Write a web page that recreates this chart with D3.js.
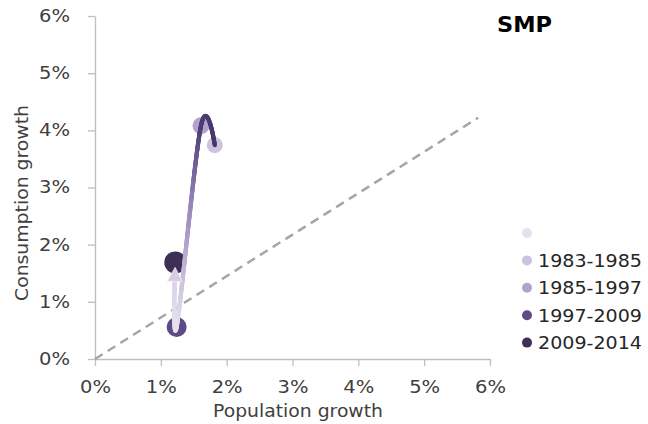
<!DOCTYPE html>
<html><head><meta charset="utf-8">
<script src="https://cdn.jsdelivr.net/npm/d3@7"></script>
<style>body{margin:0;background:#fff}svg{display:block}text{font-family:"DejaVu Sans",Verdana,sans-serif}</style>
</head><body><svg id="c" width="648" height="424"></svg>
<script>
const periods = ["1983-1985","1985-1997","1997-2009","2009-2014"];
const popGrowth = [1.82, 1.61, 1.24, 1.22];
const consGrowth = [3.74, 4.08, 0.56, 1.69];
const pointColors = ["#cdc3de","#b3a3cc","#5e4a85","#3e2f55"];
const pointRadius = [8, 8.5, 10, 11];
const legendLabels = ["", "1983-1985","1985-1997","1997-2009","2009-2014"];
const legendColors = ["#e6e0ee","#cdc3de","#b3a3cc","#5e4a85","#3e2f55"];
const refX = [0, 5.82];
const refY = [0, 4.22];
const xTicks = [0,1,2,3,4,5,6];
const yTicks = [0,1,2,3,4,5,6];
const chartTitle = "SMP";
const xTitle = "Population growth";
const yTitle = "Consumption growth";

const svg = d3.select("#c");
const x = d3.scaleLinear().domain([0,6]).range([95,490]);
const y = d3.scaleLinear().domain([0,6]).range([359,16]);
const axisColor = "#bfbfbf", textColor = "#404040";

// axes
const gy = svg.append("g").attr("transform","translate(95,0)")
  .call(d3.axisLeft(y).tickValues(yTicks).tickFormat(d=>d+"%").tickSize(7).tickSizeOuter(0).tickPadding(18));
const gx = svg.append("g").attr("transform","translate(0,359)")
  .call(d3.axisBottom(x).tickValues(xTicks).tickFormat(d=>d+"%").tickSize(7).tickSizeOuter(0).tickPadding(15));
[gx,gy].forEach(g=>{
  g.selectAll("path,line").attr("stroke",axisColor).attr("stroke-width",1.3);
  g.selectAll("text").attr("fill",textColor).style("font-size","17px").style("font-family","DejaVu Sans")
    .attr("textLength",31).attr("lengthAdjust","spacingAndGlyphs");
});

// axis titles
svg.append("text").attr("x",298).attr("y",417).attr("text-anchor","middle")
  .attr("fill",textColor).style("font-size","17px")
  .attr("textLength",170).attr("lengthAdjust","spacingAndGlyphs").text(xTitle);
svg.append("text").attr("transform","translate(28,203) rotate(-90)").attr("text-anchor","middle")
  .attr("fill",textColor).style("font-size","17px")
  .attr("textLength",196).attr("lengthAdjust","spacingAndGlyphs").text(yTitle);

// reference line
svg.append("line").attr("x1",x(refX[0])).attr("y1",y(refY[0])).attr("x2",x(refX[1])).attr("y2",y(refY[1]))
  .attr("stroke","#a6a6a6").attr("stroke-width",2.5).attr("stroke-dasharray","9,6");

// points
const pts = periods.map((p,i)=>({p, x:popGrowth[i], y:consGrowth[i], c:pointColors[i], r:pointRadius[i]}));
svg.append("g").selectAll("circle").data(pts).join("circle")
  .attr("cx",d=>x(d.x)).attr("cy",d=>y(d.y)).attr("r",d=>d.r).attr("fill",d=>d.c);

// trajectory line with colour along its length
const lineGen = d3.line().x(d=>x(d.x)).y(d=>y(d.y)).curve(d3.curveCatmullRom.alpha(0));
const hidden = svg.append("path").attr("d",lineGen(pts)).attr("fill","none").attr("stroke","none");
const node = hidden.node();
const L = node.getTotalLength();
const colorStops = d3.scaleLinear().domain([0,0.15,0.38,0.68,0.78,1])
  .range(["#46356b","#4f3e77","#9584b8","#d5cde4","#e8e3f0","#d6cde5"]).interpolate(d3.interpolateRgb);
const tipBack = 5, headLen = 14, headHalf = 7.5;
const tipL = L - tipBack, baseL = tipL - headLen;
const lg = svg.append("g");
const step = 1;
for (let s=0; s<baseL; s+=step){
  const a = node.getPointAtLength(s), b = node.getPointAtLength(Math.min(s+step+0.5, baseL+1));
  lg.append("line").attr("x1",a.x).attr("y1",a.y).attr("x2",b.x).attr("y2",b.y)
    .attr("stroke",colorStops(s/L)).attr("stroke-width",4.2).attr("stroke-linecap","round");
}
const tip = node.getPointAtLength(tipL), base = node.getPointAtLength(baseL);
const dx = tip.x-base.x, dy = tip.y-base.y, len = Math.hypot(dx,dy);
const ux = dx/len, uy = dy/len, px = -uy, py = ux;
const bx = tip.x-ux*headLen, by = tip.y-uy*headLen;
svg.append("path").attr("d",`M${tip.x},${tip.y}L${bx+px*headHalf},${by+py*headHalf}L${bx-px*headHalf},${by-py*headHalf}Z`)
  .attr("fill",colorStops(1)).attr("stroke","#f3f0f7").attr("stroke-width",0.8);

// title
svg.append("text").attr("x",497).attr("y",32).attr("fill","#000").style("font-size","22px").style("font-weight","bold")
  .attr("textLength",55).attr("lengthAdjust","spacingAndGlyphs").text(chartTitle);

// legend
const leg = svg.append("g").selectAll("g").data(legendLabels.map((l,i)=>({l,c:legendColors[i]}))).join("g")
  .attr("transform",(d,i)=>`translate(0,${233+i*27.4})`);
leg.append("circle").attr("cx",527).attr("cy",0).attr("r",5).attr("fill",d=>d.c);
leg.filter(d=>d.l!=="").append("text").attr("x",538).attr("y",6.5).attr("fill","#262626").style("font-size","17px")
  .attr("textLength",104).attr("lengthAdjust","spacingAndGlyphs").text(d=>d.l);
</script></body></html>
